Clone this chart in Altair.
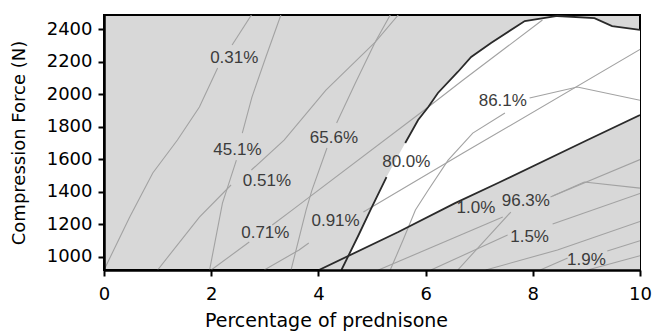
import altair as alt
import pandas as pd

X_DOMAIN = [0, 10]
Y_DOMAIN = [920, 2486]
x_ticks = [0, 2, 4, 6, 8, 10]
y_ticks = [1000, 1200, 1400, 1600, 1800, 2000, 2200, 2400]

# light contour lines (None = gap where a label sits)
c031_x = [0, 0.48, 0.91, 1.37, 1.78, 2.12, None, 2.39, 2.75]
c031_y = [920, 1245, 1516, 1718, 1921, 2160, None, 2302, 2486]
c451_x = [1.97, 2.21, 2.47, None, 2.58, 2.76, 3.02, 3.30]
c451_y = [920, 1331, 1595, None, 1761, 1982, 2228, 2486]
c051_x = [1.00, 1.78, 2.37, None, 2.75, 3.36, 4.14, 5.06, 5.49]
c051_y = [920, 1245, 1442, None, 1534, 1718, 2025, 2320, 2486]
c656_x = [3.49, 3.77, 3.88, 4.16, None, 4.34, 4.69, 5.06, 5.34]
c656_y = [920, 1288, 1411, 1669, None, 1823, 2068, 2320, 2486]
c071_x = [2.00, 2.71, None, 3.14, 3.51, 6.05, 6.70, 8.18]
c071_y = [920, 1092, None, 1196, 1288, 1921, 2087, 2455]
c091_x = [2.99, 3.64, 3.82, None, 4.84, 6.70, 10.0]
c091_y = [920, 1043, 1086, None, 1276, 1638, 2275]
c861_x = [5.34, 5.58, 5.81, 6.05, 6.42, 6.88, 7.48, None, 7.94, 8.83, 10.0]
c861_y = [920, 1104, 1288, 1411, 1595, 1761, 1884, None, 1976, 2044, 1962]
c963_x = [6.60, 7.11, 7.59, None, 8.37, 8.96, 10.0]
c963_y = [920, 1104, 1276, None, 1374, 1460, 1423]
c11_x = [5.12, 7.44, None, 8.33, 10.0]
c11_y = [920, 1245, None, 1368, 1598]
c15_x = [6.10, 7.53, None, 8.37, 10.0]
c15_y = [920, 1135, None, 1202, 1390]
c17_x = [7.12, 8.46, 10.0]
c17_y = [920, 1043, 1218]
c19_x = [8.14, 8.65, None, 9.39, 10.0]
c19_y = [920, 994, None, 1037, 1100]
c21_x = [9.02, 10.0]
c21_y = [920, 1008]

# dark limit lines
c800_x = [4.43, 4.75, 4.97, 5.27, None, 5.62, 5.86, 6.05, 6.23, 6.60, 6.85, 7.22, 7.85, 8.46, 9.15, 9.48, 10.0]
c800_y = [920, 1135, 1288, 1491, None, 1700, 1841, 1921, 2007, 2136, 2228, 2314, 2449, 2480, 2467, 2418, 2394]
c10_x = [4.01, 5.49, 6.55, 7.35, 9.02, 10.0]
c10_y = [920, 1153, 1331, 1454, 1718, 1872]

labels = ["0.31%", "45.1%", "0.51%", "65.6%", "0.71%", "0.91%", "80.0%", "86.1%", "1.0%", "96.3%", "1.5%", "1.9%"]
label_x = [2.43, 2.49, 3.04, 4.29, 3.01, 4.32, 5.64, 7.44, 6.94, 7.87, 7.94, 9.00]
label_y = [2219, 1657, 1466, 1730, 1147, 1221, 1583, 1958, 1301, 1344, 1123, 981]


def segments(name, xs, ys):
    rows, seg, order = [], 0, 0
    for x, y in zip(xs, ys):
        if x is None:
            seg += 1
            continue
        rows.append({"seg": f"{name}-{seg}", "o": order, "x": x, "y": y})
        order += 1
    return rows


light = []
for nm, xs, ys in [("c031", c031_x, c031_y), ("c451", c451_x, c451_y), ("c051", c051_x, c051_y),
                   ("c656", c656_x, c656_y), ("c071", c071_x, c071_y), ("c091", c091_x, c091_y),
                   ("c861", c861_x, c861_y), ("c963", c963_x, c963_y), ("c11", c11_x, c11_y),
                   ("c15", c15_x, c15_y), ("c17", c17_x, c17_y), ("c19", c19_x, c19_y),
                   ("c21", c21_x, c21_y)]:
    light += segments(nm, xs, ys)
dark = segments("c800", c800_x, c800_y) + segments("c10", c10_x, c10_y)

light_df = pd.DataFrame(light)
dark_df = pd.DataFrame(dark)
white_df = pd.DataFrame({"x": [v for v in c800_x if v is not None],
                         "y": [v for v in c800_y if v is not None]})
white_df["y0"] = Y_DOMAIN[0]
gray_df = pd.DataFrame({"x": c10_x, "y": c10_y})
gray_df["y0"] = Y_DOMAIN[0]
label_df = pd.DataFrame({"label": labels, "x": label_x, "y": label_y})

FONT = "DejaVu Sans"
x_axis = alt.Axis(values=x_ticks, format="d", title="Percentage of prednisone", grid=False,
                  domainColor="black", domainWidth=2.5, tickColor="black", tickWidth=2, tickSize=6,
                  labelFont=FONT, labelFontSize=18, labelColor="black", labelPadding=9,
                  titleFont=FONT, titleFontSize=19, titleFontWeight="normal", titleColor="black",
                  titlePadding=8, titleX=222, titleAlign="center", labelFlush=False, zindex=1)
y_axis = alt.Axis(values=y_ticks, format="d", title="Compression Force (N)", grid=False,
                  domainColor="black", domainWidth=2.5, tickColor="black", tickWidth=2, tickSize=6,
                  labelFont=FONT, labelFontSize=18, labelColor="black", labelPadding=6,
                  titleFont=FONT, titleFontSize=18, titleFontWeight="normal", titleColor="black",
                  titlePadding=18, labelFlush=False, zindex=1)
x_enc = alt.X("x:Q", scale=alt.Scale(domain=X_DOMAIN, nice=False, zero=False), axis=x_axis)
y_enc = alt.Y("y:Q", scale=alt.Scale(domain=Y_DOMAIN, nice=False, zero=False), axis=y_axis)

white = alt.Chart(white_df).mark_area(color="white", orient="vertical", clip=True).encode(
    x=x_enc, y=y_enc, y2="y0:Q")
gray = alt.Chart(gray_df).mark_area(color="#d8d8d8", orient="vertical", clip=True).encode(
    x=x_enc, y=y_enc, y2="y0:Q")
light_lines = alt.Chart(light_df).mark_line(color="#a2a2a2", strokeWidth=1.1, clip=True).encode(
    x=x_enc, y=y_enc, detail="seg:N", order="o:Q")
dark_lines = alt.Chart(dark_df).mark_line(color="#2a2a2a", strokeWidth=1.8, clip=True).encode(
    x=x_enc, y=y_enc, detail="seg:N", order="o:Q")
text = alt.Chart(label_df).mark_text(font="Liberation Sans", fontSize=17, color="#3c3c3c").encode(
    x=x_enc, y=y_enc, text="label:N")

chart = alt.layer(white, gray, light_lines, dark_lines, text).properties(
    width=536, height=255,
    autosize=alt.AutoSizeParams(type="none"),
    padding={"left": 104, "top": 15, "right": 13, "bottom": 63},
).configure_view(fill="#d8d8d8", stroke="black", strokeWidth=2)

chart.save("out.html", embed_options={"renderer": "svg", "actions": False})
